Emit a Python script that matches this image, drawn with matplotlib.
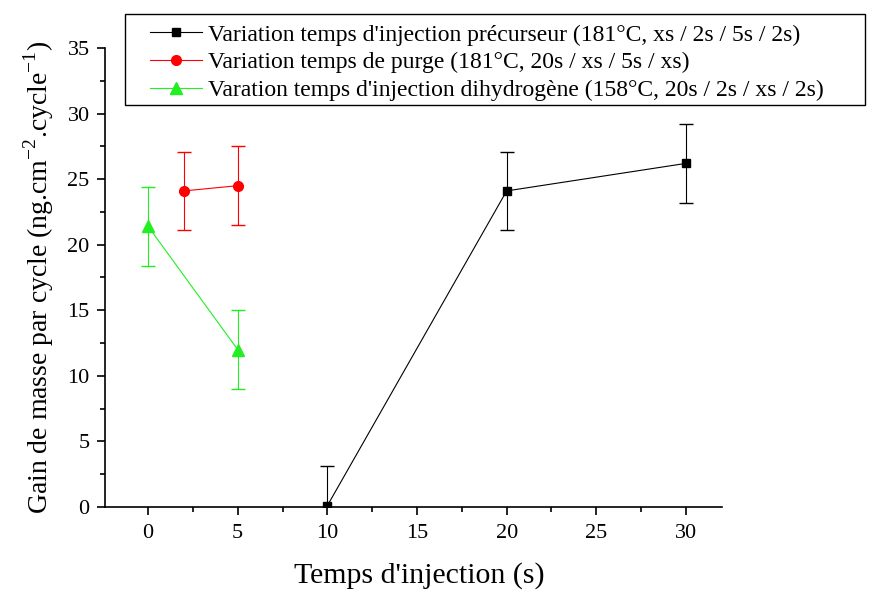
import matplotlib
matplotlib.use('Agg')
import matplotlib.pyplot as plt
from matplotlib.patches import Rectangle
from matplotlib.ticker import MultipleLocator

plt.rcParams['font.family'] = ['Liberation Serif', 'DejaVu Serif']
plt.rcParams['mathtext.fontset'] = 'custom'
plt.rcParams['mathtext.rm'] = 'Liberation Serif'

# precurseur
x_prec = [10, 20, 30]
y_prec = [0.1, 24.1, 26.2]
e_prec = [3, 3, 3]
# purge
x_purge = [2, 5]
y_purge = [24.1, 24.5]
e_purge = [3, 3]
# dihydrogene
x_h2 = [0, 5]
y_h2 = [21.4, 12.0]
e_h2 = [3, 3]

labels = ["Variation temps d'injection précurseur (181°C, xs / 2s / 5s / 2s)",
          "Variation temps de purge (181°C, 20s / xs / 5s / xs)",
          "Varation temps d'injection dihydrogène (158°C, 20s / 2s / xs / 2s)"]

fig = plt.figure(figsize=(8.7, 5.9), dpi=100)
ax = fig.add_axes([0.1207, 0.1407, 0.709, 0.778])

c1 = ax.errorbar(x_prec, y_prec, yerr=e_prec, color='black', marker='s', ms=6,
                 lw=0.8, elinewidth=0.8, capsize=5)
c2 = ax.errorbar(x_purge, y_purge, yerr=e_purge, color='red', marker='o', ms=7,
                 lw=0.8, elinewidth=0.8, capsize=5)
c3 = ax.errorbar(x_h2, y_h2, yerr=e_h2, color='#22ee22', marker='^', ms=9,
                 lw=0.8, elinewidth=0.8, capsize=5)

ax.set_xlim(-2.4, 32)
ax.set_ylim(0, 35)
ax.xaxis.set_major_locator(MultipleLocator(5))
ax.xaxis.set_minor_locator(MultipleLocator(2.5))
ax.yaxis.set_major_locator(MultipleLocator(5))
ax.yaxis.set_minor_locator(MultipleLocator(2.5))
ax.tick_params(which='both', direction='out', labelsize=16, width=1.2)
ax.tick_params(which='major', length=6)
ax.tick_params(which='minor', length=3.5)
ax.tick_params(axis='x', pad=6)
ax.tick_params(axis='y', pad=5)
ax.spines['top'].set_visible(False)
ax.spines['right'].set_visible(False)
for s in ('left', 'bottom'):
    ax.spines[s].set_linewidth(1.2)

ax.set_xlabel("Temps d'injection (s)", fontsize=21.5)
ax.xaxis.set_label_coords(0.51, -0.12)
ax.set_ylabel("Gain de masse par cycle (ng.cm$^{-2}$.cycle$^{-1}$)", fontsize=20, labelpad=8)

# legend box sticks out past the axes, drawn by hand
fig.patches.append(Rectangle((125 / 870, 1 - 105 / 590), 740 / 870, 91 / 590,
                             transform=fig.transFigure, fill=False,
                             edgecolor='black', linewidth=1.0))
fig.legend(handles=[c1[0], c2[0], c3[0]], labels=labels,
           loc='upper left', bbox_to_anchor=(150 / 870, 1 - 24 / 590),
           borderaxespad=0, borderpad=0,
           fontsize=17, frameon=False, handlelength=2.2, handletextpad=0.25,
           labelspacing=0.26)

fig.savefig('out.png', dpi=100)
